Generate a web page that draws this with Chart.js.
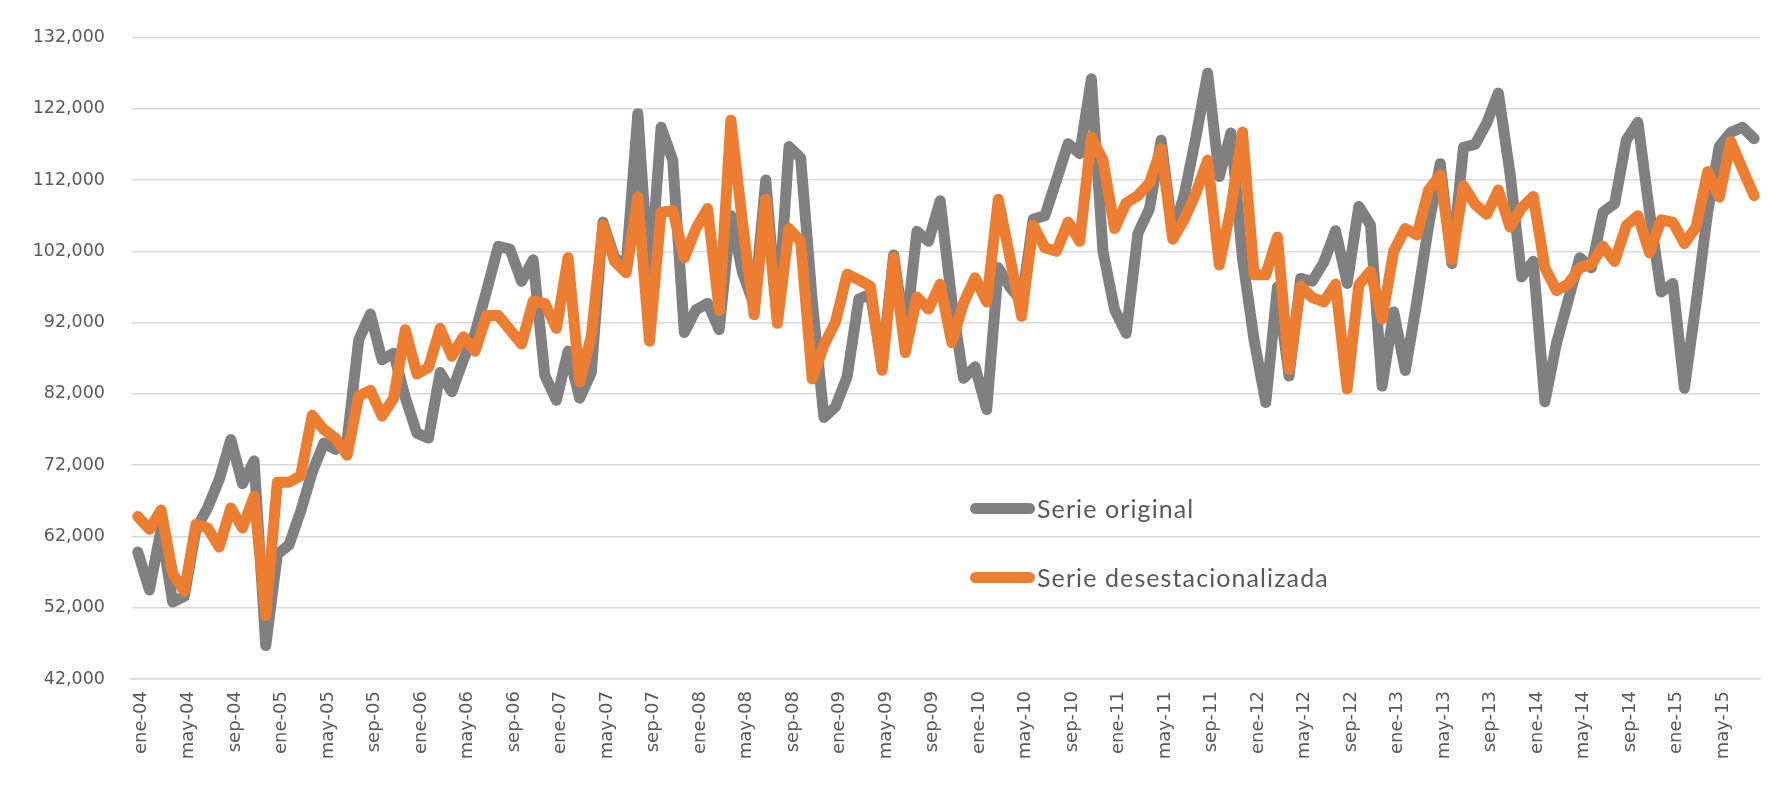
<!DOCTYPE html>
<html>
<head>
<meta charset="utf-8">
<script src="https://cdn.jsdelivr.net/npm/chart.js"></script>
<style>
  html, body { margin: 0; padding: 0; background: #ffffff; }
  #wrap { position: relative; width: 1768px; height: 785px; }
  #legend { position: absolute; left: 0; top: 0; width: 0; height: 0; }
  .item { position: absolute; display: flex; align-items: center; white-space: nowrap;
          font-family: Lato, "Open Sans", sans-serif; font-size: 25px; color: #595959; letter-spacing: 1.1px; }
  .swatch { display: inline-block; width: 65px; height: 11px; border-radius: 6px; margin-right: 2px; }
</style>
</head>
<body>
<div id="wrap">
  <canvas id="c" width="1768" height="785"></canvas>
  <div id="legend"></div>
</div>
<script>
// ---- data -------------------------------------------------------------
const monthNames = ['ene','feb','mar','abr','may','jun','jul','ago','sep','oct','nov','dic'];
const years = ['04','05','06','07','08','09','10','11','12','13','14','15'];
const monthsInLastYear = 8; // ene-15 ... ago-15

const serieOriginal = [
  59800, 54500, 63000, 52800, 53600, 63000, 66000, 70000, 75600, 69400, 72600, 46700,
  59500, 60800, 65500, 71000, 75100, 74200, 75500, 89600, 93200, 86800, 87700, 81500,
  76500, 75800, 85000, 82300, 86800, 90500, 96500, 102700, 102300, 97800, 100800, 84600,
  81100, 88000, 81400, 85000, 106100, 101100, 100000, 121300, 97000, 119400, 114800, 90600,
  93800, 94700, 91000, 107000, 99000, 94500, 112000, 92500, 116700, 115100, 95000, 78700,
  80200, 84400, 95300, 96000, 86000, 101500, 90000, 104800, 103400, 109100, 95000, 84200,
  85800, 79800, 99700, 97000, 95000, 106500, 107000, 112000, 117100, 115700, 126200, 102000,
  93800, 90500, 104500, 108000, 117600, 104500, 110000, 118100, 127000, 112500, 118600, 101000,
  89500, 80800, 97000, 84500, 98200, 97800, 100500, 104900, 97500, 108300, 105700, 83100,
  93500, 85300, 95000, 105600, 114300, 100300, 116600, 117000, 120000, 124200, 113000, 98400,
  100600, 80900, 89100, 95100, 101100, 99700, 107500, 108700, 117600, 120100, 107500, 96300,
  97500, 82800, 94700, 107500, 116700, 118700, 119400, 117800
];

const serieDesestacionalizada = [
  64800, 63000, 65700, 56800, 54300, 63700, 63200, 60500, 66000, 63200, 67600, 50900,
  69600, 69600, 70500, 79000, 77000, 75800, 73400, 81700, 82500, 78900, 81400, 91000,
  84800, 85700, 91200, 87300, 90000, 88000, 93000, 93000, 91000, 89000, 95000, 94700,
  91200, 101100, 83700, 90100, 105700, 100600, 99000, 109600, 89400, 107500, 107700, 101100,
  105200, 108000, 93700, 120400, 106000, 93100, 109300, 91900, 105200, 103400, 84100, 88800,
  92100, 98800, 98000, 97100, 85300, 101100, 87800, 95600, 93900, 97400, 89200, 94700,
  98300, 94900, 109300, 101100, 92900, 105700, 102500, 102000, 106100, 103400, 118000, 114800,
  105200, 108800, 109800, 111600, 116400, 103700, 106500, 110200, 114800, 100100, 108000, 118700,
  98700, 98700, 104000, 85400, 97100, 95500, 94900, 97400, 82700, 97300, 99200, 92500,
  102000, 105200, 104300, 110600, 112700, 100800, 111200, 108600, 107200, 110600, 105400, 108100,
  109700, 99700, 96500, 97400, 99700, 100200, 102700, 100600, 105600, 107000, 101800, 106400,
  106100, 103100, 105400, 113200, 109600, 117400, 113500, 109800
];

const yTicks = [42000, 52000, 62000, 72000, 82000, 92000, 102000, 112000, 122000, 132000];
const seriesNames = ['Serie original', 'Serie desestacionalizada'];
const seriesColors = ['#808080', '#ED7D31'];

// categories: every month from ene-04 to ago-15
const categories = [];
years.forEach((y, yi) => {
  const n = (yi === years.length - 1) ? monthsInLastYear : 12;
  for (let m = 0; m < n; m++) categories.push(monthNames[m] + '-' + y);
});

// ---- chart ------------------------------------------------------------
const PLOT_LEFT = 132, PLOT_TOP = 22, PLOT_BOTTOM = 679, PLOT_RIGHT = 1760;
const W = 1768, H = 785;

const chart = new Chart(document.getElementById('c'), {
  type: 'line',
  data: {
    labels: categories,
    datasets: [
      { label: seriesNames[0], data: serieOriginal, borderColor: seriesColors[0], backgroundColor: seriesColors[0],
        borderWidth: 11, pointRadius: 0, tension: 0, borderJoinStyle: 'round', borderCapStyle: 'round', order: 1 },
      { label: seriesNames[1], data: serieDesestacionalizada, borderColor: seriesColors[1], backgroundColor: seriesColors[1],
        borderWidth: 11, pointRadius: 0, tension: 0, borderJoinStyle: 'round', borderCapStyle: 'round', order: 0 }
    ]
  },
  options: {
    responsive: false,
    animation: false,
    devicePixelRatio: 1,
    layout: { padding: { left: 0, top: PLOT_TOP, right: W - PLOT_RIGHT, bottom: 0 } },
    plugins: { legend: { display: false }, tooltip: { enabled: false } },
    scales: {
      x: {
        type: 'category',
        offset: true,
        grid: { display: false, drawTicks: false },
        border: { display: true, color: '#d9d9d9', width: 1.5 },
        ticks: {
          autoSkip: false,
          minRotation: 90, maxRotation: 90,
          padding: 12,
          labelOffset: 4,
          color: '#595959',
          font: { family: '"DejaVu Sans"', size: 18 },
          callback: function(v, i) { return i % 4 === 0 ? categories[i] : null; }
        },
        afterFit: function(s) { s.height = H - PLOT_BOTTOM; }
      },
      y: {
        min: 42000, max: 132000,
        afterBuildTicks: function(s) { s.ticks = yTicks.map(v => ({ value: v })); },
        grid: { color: '#d9d9d9', lineWidth: 1.5, drawTicks: false },
        border: { display: false },
        ticks: {
          padding: 27,
          color: '#595959',
          font: { family: '"DejaVu Sans"', size: 17.5 },
          callback: function(v) { return v.toLocaleString('en-US'); }
        },
        afterFit: function(s) { s.width = PLOT_LEFT; }
      }
    }
  }
});

// ---- legend (HTML text) ----------------------------------------------
const legendEl = document.getElementById('legend');
const legendPos = [[970, 508], [970, 577]];
seriesNames.forEach((name, k) => {
  const item = document.createElement('div');
  item.className = 'item';
  item.style.left = legendPos[k][0] + 'px';
  item.style.top = (legendPos[k][1] - 17) + 'px';
  item.style.height = '34px';
  const sw = document.createElement('span');
  sw.className = 'swatch';
  sw.style.background = seriesColors[k];
  const tx = document.createElement('span');
  tx.textContent = name;
  item.appendChild(sw); item.appendChild(tx);
  legendEl.appendChild(item);
});
</script>
</body>
</html>
